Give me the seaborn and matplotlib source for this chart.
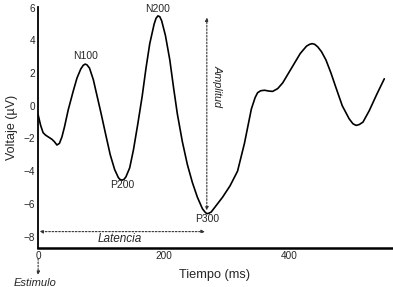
import matplotlib
matplotlib.use("Agg")
import matplotlib.pyplot as plt
import seaborn as sns
import pandas as pd

# Data
time_ms = [0, 4, 8, 12, 16, 22, 26, 30, 34, 38, 42, 48, 56, 62, 68, 72, 75, 78, 82, 88,
           94, 100, 108, 115, 122, 128, 131, 134, 137, 140, 146, 152, 159, 166, 172,
           178, 185, 188, 191, 194, 197, 203, 210, 216, 222, 230, 238, 246, 254, 262,
           266, 269, 272, 276, 284, 294, 306, 318, 329, 340, 346, 350, 355, 361, 368,
           374, 382, 390, 404, 418, 428, 433, 437, 441, 446, 452, 459, 467, 475, 485,
           496, 502, 507, 512, 518, 528, 540, 552]
voltage_uv = [-0.55, -1.2, -1.65, -1.8, -1.9, -2.05, -2.2, -2.4, -2.3, -1.9, -1.3,
              -0.25, 0.9, 1.7, 2.25, 2.48, 2.55, 2.5, 2.3, 1.6, 0.6, -0.4, -1.8, -3.0,
              -3.9, -4.4, -4.52, -4.55, -4.5, -4.35, -3.8, -2.7, -1.1, 0.6, 2.3, 3.8,
              5.0, 5.35, 5.5, 5.45, 5.2, 4.3, 2.8, 1.1, -0.5, -2.2, -3.6, -4.7, -5.6,
              -6.3, -6.5, -6.6, -6.58, -6.5, -6.1, -5.6, -4.9, -4.0, -2.3, -0.2, 0.5,
              0.8, 0.92, 0.95, 0.9, 0.88, 1.05, 1.4, 2.3, 3.2, 3.65, 3.76, 3.8, 3.76,
              3.6, 3.3, 2.8, 2.0, 1.1, 0.0, -0.8, -1.1, -1.2, -1.15, -1.0, -0.3, 0.7,
              1.65]

peak_labels = ["N100", "P200", "N200", "P300"]
peak_t = [75, 134, 191, 269]
peak_v = [2.55, -4.55, 5.5, -6.6]

x_ticks = [0, 200, 400]
y_ticks = [6, 4, 2, 0, -2, -4, -6, -8]

df = pd.DataFrame({"t": time_ms, "v": voltage_uv})

sns.set_style("white")
plt.rcParams["font.family"] = ["Liberation Sans", "DejaVu Sans"]

fig = plt.figure(figsize=(3.93, 2.87), dpi=100)
ax = fig.add_axes([0.097, 0.136, 0.9, 0.84])

sns.lineplot(data=df, x="t", y="v", color="black", linewidth=1.2, ax=ax)

ax.set_xlim(0, 564)
ax.set_ylim(-8.7, 6.05)
ax.set_xticks(x_ticks)
ax.set_yticks(y_ticks)
ax.tick_params(direction="in", length=3, width=0.8, labelsize=7.2, pad=2)
for s in ["top", "right"]:
    ax.spines[s].set_visible(False)
ax.spines["left"].set_linewidth(1.3)
ax.spines["bottom"].set_linewidth(1.8)
ax.spines["left"].set_color("black")
ax.spines["bottom"].set_color("black")

ax.set_xlabel("Tiempo (ms)", fontsize=9.2, labelpad=6)
ax.set_ylabel("Voltaje (µV)", fontsize=9, labelpad=4)

# peak labels (offsets from the peak, in data units)
offsets = {"N100": 0.5, "P200": -0.3, "N200": 0.42, "P300": -0.3}
for lab, t, v in zip(peak_labels, peak_t, peak_v):
    ax.text(t, v + offsets[lab], lab, fontsize=7.5, ha="center",
            va="center", clip_on=False)

arrow = dict(arrowstyle="<|-|>", linestyle=(0, (1.5, 1.5)), color="#333333",
             lw=0.8, mutation_scale=5, shrinkA=0, shrinkB=0)
# Amplitud
ax.annotate("", xy=(269, -6.4), xytext=(269, 5.4), arrowprops=arrow)
ax.text(286, 1.2, "Amplitud", rotation=-90, fontsize=7.8, style="italic",
        ha="center", va="center")
# Latencia
ax.annotate("", xy=(2, -7.7), xytext=(266, -7.7), arrowprops=arrow)
ax.text(130, -8.15, "Latencia", fontsize=8.5, style="italic", ha="center", va="center")
# Estimulo
down = dict(arrowstyle="-|>", linestyle=(0, (1.5, 1.5)), color="#333333",
            lw=0.8, mutation_scale=5, shrinkA=0, shrinkB=0)
ax.annotate("", xy=(0, -10.35), xytext=(0, -9.35), arrowprops=down,
            annotation_clip=False)
fig.text(14 / 393, 1 - 283 / 287, "Estimulo", fontsize=8, style="italic",
         ha="left", va="center")

fig.savefig("out.png", dpi=100)
